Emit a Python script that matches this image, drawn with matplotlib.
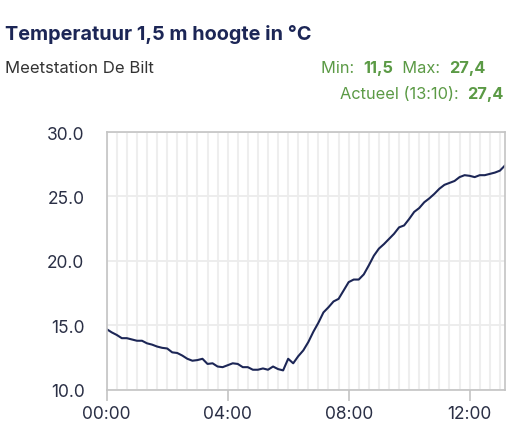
import numpy as np
import matplotlib
matplotlib.use("Agg")
import matplotlib.pyplot as plt

plt.rcParams['font.family'] = ['Inter', 'DejaVu Sans']

# temperature every 10 minutes, 00:00 - 13:10
minutes = np.arange(0, 13 * 60 + 11, 10)
temps = [14.7, 14.45, 14.25, 14.0, 14.0, 13.9, 13.8, 13.8, 13.6, 13.5, 13.35, 13.25,
         13.2, 12.9, 12.85, 12.65, 12.4, 12.25, 12.3, 12.4, 12.0, 12.05, 11.8, 11.75,
         11.9, 12.05, 12.0, 11.75, 11.75, 11.55, 11.55, 11.65, 11.55, 11.8, 11.6, 11.5,
         12.4, 12.05, 12.6, 13.05, 13.7, 14.5, 15.2, 16.0, 16.4, 16.85, 17.05, 17.7,
         18.35, 18.55, 18.55, 18.95, 19.65, 20.4, 20.95, 21.3, 21.7, 22.1, 22.6, 22.75,
         23.25, 23.8, 24.1, 24.55, 24.85, 25.2, 25.6, 25.9, 26.05, 26.2, 26.5, 26.65,
         26.6, 26.5, 26.65, 26.65, 26.75, 26.85, 27.0, 27.4]
x_ticks = [0, 240, 480, 720]
x_labels = ["00:00", "04:00", "08:00", "12:00"]
y_ticks = [10, 15, 20, 25, 30]

title = "Temperatuur 1,5 m hoogte in °C"
station = "Meetstation De Bilt"
t_min, t_max, t_now, now_time = "11,5", "27,4", "27,4", "13:10"

navy = "#1c2656"
green = "#5b9a45"
border = "#c4c4c4"

fig = plt.figure(figsize=(5.24, 4.39), dpi=100)
ax = fig.add_axes([0.2036, 0.110, 0.760, 0.587])
ax.plot(minutes, temps, color=navy, lw=1.5, solid_joinstyle='round')

ax.set_xlim(0, 790)
ax.set_ylim(10, 30)
ax.set_xticks(x_ticks)
ax.set_xticklabels(x_labels)
ax.set_xticks(np.arange(0, 791, 20), minor=True)
ax.set_yticks(y_ticks)
ax.set_yticklabels([f"{v:.1f}" for v in y_ticks])
ax.grid(True, which='minor', axis='x', color="#eeeeee", lw=1.5)
ax.grid(True, which='major', axis='x', color="#eeeeee", lw=1.5)
ax.grid(True, which='major', axis='y', color="#ececec", lw=1.3)
ax.set_axisbelow(True)
ax.tick_params(axis='x', which='minor', length=0)
ax.tick_params(axis='x', which='major', length=8, width=1.2, color=border,
               labelsize=12.5, labelcolor="#2a2f45", pad=3)
ax.tick_params(axis='y', length=0, labelsize=12.5, labelcolor="#2a2f45", pad=16)
for s in ax.spines.values():
    s.set_color(border)
    s.set_linewidth(1.2)

fig.text(5 / 524, 1 - 40 / 439, title, fontsize=14.3, fontweight='bold', color=navy)
fig.text(5 / 524, 1 - 73 / 439, station, fontsize=12, color="#333333")

renderer = fig.canvas.get_renderer()


def right_chain(parts, x_right, y_base):
    # draw text parts right to left so the last part ends at x_right
    x = x_right
    for txt, bold in reversed(parts):
        t = fig.text(x / 524, 1 - y_base / 439, txt, fontsize=11.8, color=green,
                     fontweight='bold' if bold else 'normal', ha='right')
        w = t.get_window_extent(renderer).width
        x -= w


right_chain([("Min:  ", False), (t_min, True), ("  Max:  ", False), (t_max, True)], 486, 73)
right_chain([(f"Actueel ({now_time}):  ", False), (t_now, True)], 504, 99)

fig.savefig("out.png", dpi=100)
